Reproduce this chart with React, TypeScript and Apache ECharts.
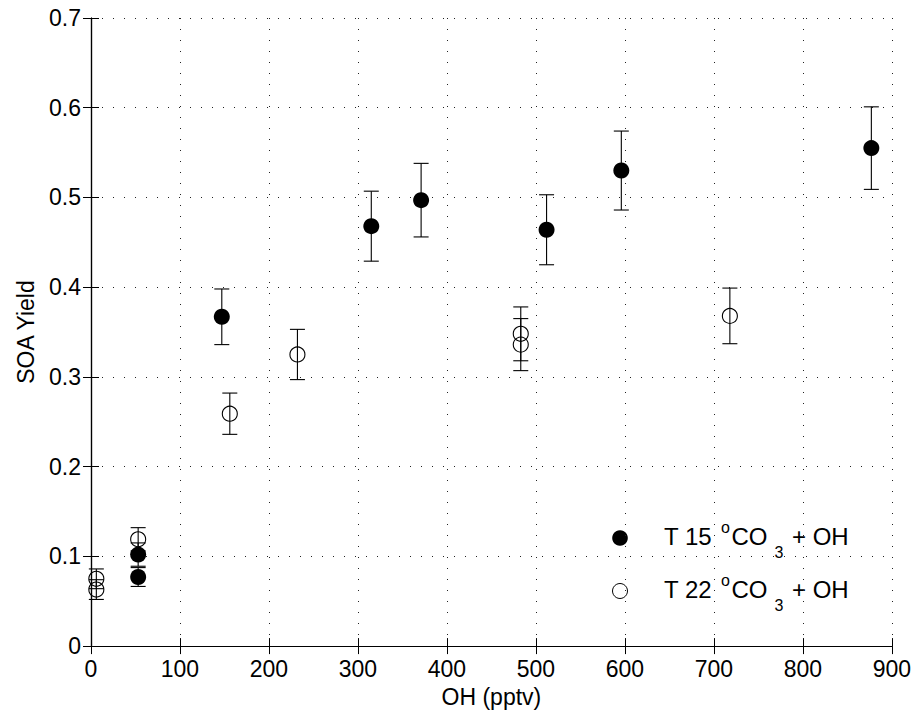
import React, { useEffect, useRef } from "react";
import * as echarts from "echarts";

// T 15 °C, O3 + OH (filled)
const t15X = [53, 53, 147, 315, 371, 512, 596, 877];
const t15Y = [0.077, 0.102, 0.367, 0.468, 0.497, 0.464, 0.53, 0.555];
const t15Err = [0.0105, 0.013, 0.031, 0.039, 0.041, 0.039, 0.044, 0.046];

// T 22 °C, O3 + OH (hollow)
const t22X = [6, 6, 53, 156, 232, 483, 483, 718];
const t22Y = [0.063, 0.075, 0.119, 0.259, 0.325, 0.336, 0.348, 0.368];
const t22Err = [0.011, 0.011, 0.013, 0.023, 0.028, 0.029, 0.03, 0.031];

const xMin = 0, xMax = 900, xStep = 100;
const yMin = 0, yMax = 0.7, yStep = 0.1;

const FONT = "'Liberation Sans', Arial, Helvetica, sans-serif";
const FS = 23;

function errorSeries(xs: number[], ys: number[], errs: number[]) {
  return {
    type: "custom",
    silent: true,
    z: 1,
    data: xs.map((x, i) => [x, ys[i] - errs[i], ys[i] + errs[i]]),
    encode: { x: 0, y: [1, 2] },
    renderItem: (params: any, api: any) => {
      const lo = api.coord([api.value(0), api.value(1)]);
      const hi = api.coord([api.value(0), api.value(2)]);
      const hw = 7.5;
      const st = { stroke: "#000", lineWidth: 1.1 };
      return {
        type: "group",
        children: [
          { type: "line", shape: { x1: lo[0], y1: lo[1], x2: hi[0], y2: hi[1] }, style: st },
          { type: "line", shape: { x1: lo[0] - hw, y1: lo[1], x2: lo[0] + hw, y2: lo[1] }, style: st },
          { type: "line", shape: { x1: hi[0] - hw, y1: hi[1], x2: hi[0] + hw, y2: hi[1] }, style: st },
        ],
      };
    },
  };
}

function legendRow(y: number, temp: string, filled: boolean) {
  const base = { fill: "#000", fontFamily: FONT, verticalAlign: "middle", align: "left" };
  return [
    {
      type: "circle",
      shape: { cx: 620, cy: y + 2, r: filled ? 7.8 : 7.5 },
      style: filled ? { fill: "#000" } : { fill: "#fff", stroke: "#000", lineWidth: 1 },
    },
    { type: "text", x: 664, y, style: { ...base, text: "T " + temp, fontSize: 24 } },
    { type: "text", x: 721, y: y - 9, style: { ...base, text: "o", fontSize: 16 } },
    { type: "text", x: 731.5, y, style: { ...base, text: "CO", fontSize: 24 } },
    { type: "text", x: 774.5, y: y + 16, style: { ...base, text: "3", fontSize: 16 } },
    { type: "text", x: 792, y, style: { ...base, text: "+ OH", fontSize: 24 } },
  ];
}

export default function App() {
  const ref = useRef<HTMLDivElement>(null);
  useEffect(() => {
    if (!ref.current) return;
    const chart = echarts.init(ref.current, undefined, { renderer: "svg" });
    const axisLine = { show: true, lineStyle: { color: "#000", width: 1.2 } };
    const axisTick = { show: true, inside: true, length: 8, lineStyle: { color: "#000", width: 1 } };
    const splitLine = { show: true, lineStyle: { color: "#222", width: 1, type: [1, 10] } };
    const label = { color: "#000", fontSize: FS, fontFamily: FONT };
    chart.setOption({
      animation: false,
      backgroundColor: "#fff",
      grid: { left: 91, top: 18, right: 22, bottom: 64, containLabel: false },
      xAxis: [
        {
          type: "value", min: xMin, max: xMax, interval: xStep, position: "bottom",
          axisLine, axisTick, splitLine,
          axisLabel: { ...label, margin: 11 },
          name: "OH (pptv)", nameLocation: "middle", nameGap: 37,
          nameTextStyle: { color: "#000", fontSize: FS, fontFamily: FONT },
        },
        {
          type: "value", min: xMin, max: xMax, interval: xStep, position: "top",
          axisLine, axisTick, splitLine: { show: false }, axisLabel: { show: false },
        },
      ],
      yAxis: [
        {
          type: "value", min: yMin, max: yMax, interval: yStep, position: "left",
          axisLine, axisTick, splitLine,
          axisLabel: { ...label, margin: 10 },
          name: "SOA Yield", nameLocation: "middle", nameGap: 54, nameRotate: 90,
          nameTextStyle: { color: "#000", fontSize: FS, fontFamily: FONT },
        },
        {
          type: "value", min: yMin, max: yMax, interval: yStep, position: "right",
          axisLine, axisTick, splitLine: { show: false }, axisLabel: { show: false },
        },
      ],
      series: [
        errorSeries(t15X, t15Y, t15Err),
        errorSeries(t22X, t22Y, t22Err),
        {
          type: "scatter", name: "T 15", z: 3, symbol: "circle", symbolSize: 16,
          data: t15X.map((x, i) => [x, t15Y[i]]),
          itemStyle: { color: "#000", opacity: 1 },
        },
        {
          type: "scatter", name: "T 22", z: 3, symbol: "circle", symbolSize: 15,
          data: t22X.map((x, i) => [x, t22Y[i]]),
          itemStyle: { color: "rgba(0,0,0,0)", borderColor: "#000", borderWidth: 1.1, opacity: 1 },
        },
      ],
      graphic: [...legendRow(536, "15", true), ...legendRow(589, "22", false)],
    });
    return () => chart.dispose();
  }, []);
  return (
    <div
      ref={ref}
      style={{ position: "fixed", left: 0, top: 0, width: 914, height: 713, background: "#fff" }}
    />
  );
}
